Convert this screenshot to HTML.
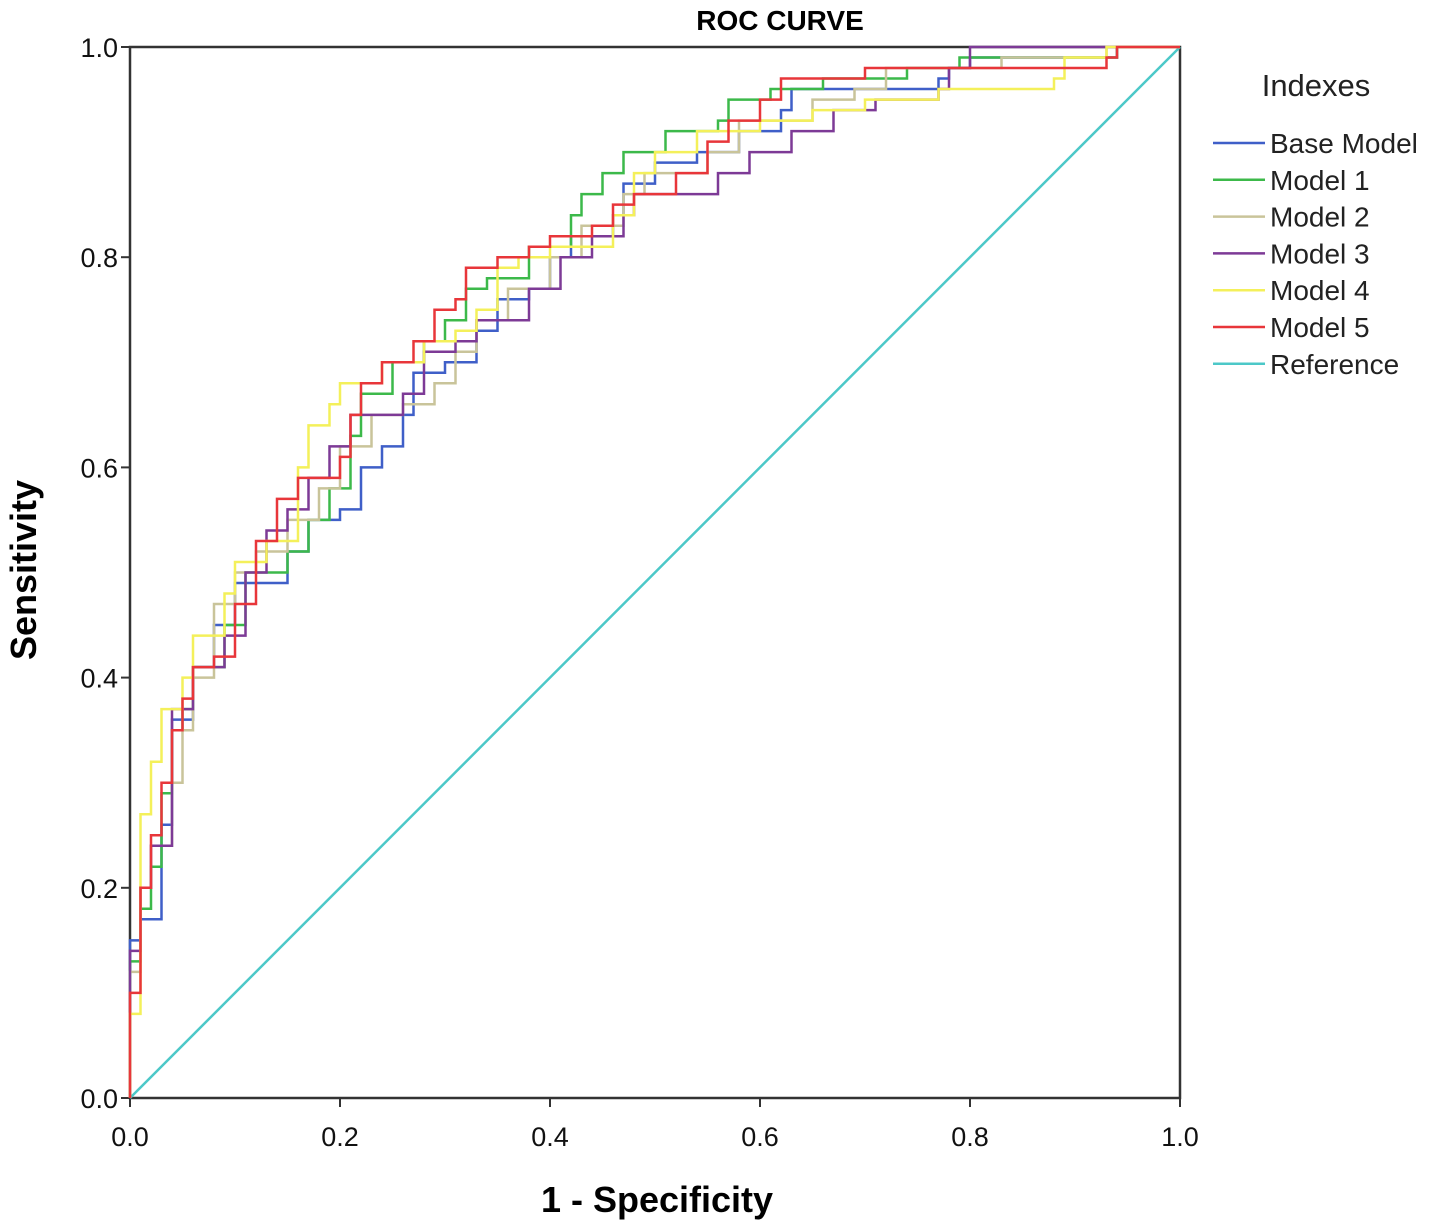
<!DOCTYPE html>
<html><head><meta charset="utf-8"><style>
body{margin:0;background:#fff;}
svg{display:block;font-family:"Liberation Sans",Arial,sans-serif;}
</style></head><body>
<svg id="chart" width="1429" height="1229" viewBox="0 0 1429 1229">
<text x="780" y="30" text-anchor="middle" font-size="28" font-weight="bold">ROC CURVE</text>
<g id="axes"></g>
<g id="series"></g>
<text x="657" y="1212" text-anchor="middle" font-size="36" font-weight="bold">1 - Specificity</text>
<text transform="translate(36,570) rotate(-90)" text-anchor="middle" font-size="36" font-weight="bold">Sensitivity</text>
<g id="legend">
<text x="1316" y="96" text-anchor="middle" font-size="31" fill="#222">Indexes</text>
</g>
</svg>
<script>
const tickLabels=["0.0","0.2","0.4","0.6","0.8","1.0"];
const tickValues=[0,0.2,0.4,0.6,0.8,1.0];
const seriesNames=["Base Model","Model 1","Model 2","Model 3","Model 4","Model 5","Reference"];
const seriesColors=["#3f5fc8","#3cb94a","#c9c49a","#7d3a96","#f4f05a","#e8363a","#4cc8c8"];
// step points [fpr, tpr]
const baseModel=[[0,0.15],[0.01,0.17],[0.03,0.18],[0.03,0.26],[0.04,0.36],[0.06,0.41],[0.08,0.45],[0.1,0.49],[0.15,0.49],[0.15,0.52],[0.17,0.55],[0.2,0.56],[0.22,0.56],[0.22,0.6],[0.24,0.62],[0.26,0.65],[0.27,0.69],[0.3,0.7],[0.33,0.73],[0.35,0.76],[0.38,0.77],[0.4,0.8],[0.42,0.82],[0.46,0.84],[0.47,0.87],[0.5,0.89],[0.54,0.9],[0.58,0.92],[0.62,0.94],[0.63,0.96],[0.77,0.97],[0.78,0.98],[0.8,0.99],[0.94,1.0]];
const model1=[[0,0.13],[0.01,0.18],[0.02,0.22],[0.03,0.29],[0.04,0.35],[0.05,0.37],[0.06,0.41],[0.09,0.45],[0.11,0.5],[0.13,0.5],[0.15,0.52],[0.17,0.55],[0.19,0.58],[0.21,0.63],[0.22,0.67],[0.25,0.7],[0.28,0.72],[0.3,0.74],[0.32,0.77],[0.34,0.78],[0.38,0.81],[0.42,0.84],[0.43,0.86],[0.45,0.88],[0.47,0.9],[0.51,0.92],[0.56,0.93],[0.57,0.95],[0.61,0.96],[0.66,0.97],[0.74,0.98],[0.79,0.99],[0.94,1.0]];
const model2=[[0,0.12],[0.01,0.2],[0.02,0.24],[0.04,0.3],[0.05,0.35],[0.06,0.4],[0.08,0.47],[0.1,0.5],[0.12,0.52],[0.15,0.55],[0.18,0.58],[0.2,0.62],[0.23,0.65],[0.26,0.66],[0.29,0.68],[0.31,0.71],[0.33,0.74],[0.36,0.77],[0.4,0.8],[0.43,0.83],[0.47,0.86],[0.49,0.88],[0.55,0.9],[0.58,0.93],[0.65,0.95],[0.69,0.96],[0.72,0.98],[0.83,0.99],[0.93,1.0]];
const model3=[[0,0.14],[0.01,0.2],[0.02,0.24],[0.04,0.29],[0.04,0.37],[0.06,0.41],[0.08,0.41],[0.09,0.44],[0.11,0.5],[0.13,0.54],[0.15,0.56],[0.17,0.59],[0.19,0.62],[0.21,0.65],[0.25,0.65],[0.26,0.67],[0.28,0.71],[0.31,0.72],[0.33,0.74],[0.37,0.74],[0.38,0.77],[0.41,0.8],[0.44,0.82],[0.47,0.84],[0.48,0.86],[0.55,0.86],[0.56,0.88],[0.59,0.9],[0.63,0.92],[0.67,0.94],[0.71,0.95],[0.77,0.96],[0.78,0.98],[0.8,1.0]];
const model4=[[0,0.08],[0.01,0.27],[0.02,0.32],[0.03,0.37],[0.05,0.4],[0.06,0.44],[0.09,0.48],[0.1,0.51],[0.13,0.53],[0.16,0.6],[0.17,0.64],[0.19,0.66],[0.2,0.68],[0.24,0.7],[0.28,0.72],[0.31,0.73],[0.33,0.75],[0.35,0.79],[0.37,0.8],[0.4,0.81],[0.45,0.81],[0.46,0.84],[0.48,0.88],[0.5,0.9],[0.54,0.92],[0.6,0.93],[0.65,0.94],[0.7,0.95],[0.77,0.96],[0.88,0.97],[0.89,0.99],[0.93,1.0]];
const model5=[[0,0.1],[0.01,0.2],[0.02,0.25],[0.03,0.3],[0.04,0.35],[0.05,0.38],[0.06,0.41],[0.08,0.42],[0.1,0.47],[0.12,0.53],[0.14,0.57],[0.16,0.59],[0.17,0.59],[0.2,0.61],[0.21,0.65],[0.22,0.68],[0.24,0.7],[0.27,0.72],[0.29,0.75],[0.31,0.76],[0.32,0.79],[0.35,0.8],[0.38,0.81],[0.4,0.82],[0.44,0.83],[0.46,0.85],[0.48,0.86],[0.52,0.88],[0.55,0.91],[0.57,0.93],[0.6,0.95],[0.62,0.97],[0.7,0.98],[0.93,0.99],[0.94,1.0]];
const refLine=[[0,0],[1,1]];
const allSeries=[baseModel,model1,model2,model3,model4,model5];

const X0=130,X1=1180,Y0=1098,Y1=47;
const xs=v=>X0+v*(X1-X0);
const ys=v=>Y0-v*(Y0-Y1);
const NS="http://www.w3.org/2000/svg";
function mk(tag,attrs,parent){const e=document.createElementNS(NS,tag);for(const k in attrs)e.setAttribute(k,attrs[k]);parent.appendChild(e);return e;}
const axes=document.getElementById('axes');
const frame=mk('rect',{x:X0,y:Y1,width:X1-X0,height:Y0-Y1,fill:'none',stroke:'#333','stroke-width':2.5},axes);


tickValues.forEach((v,i)=>{
  const tx=mk('line',{x1:xs(v),x2:xs(v),y1:Y0,y2:Y0+9,stroke:'#333','stroke-width':2},axes);
  
  
  const lx=mk('text',{x:xs(v),y:1146,'text-anchor':'middle','font-size':27,fill:'#111'},axes);
  lx.textContent=tickLabels[i];
  
  
  const ty=mk('line',{x1:X0-9,x2:X0,y1:ys(v),y2:ys(v),stroke:'#333','stroke-width':2},axes);
  
  
  const ly=mk('text',{x:X0-12,y:ys(v)+10,'text-anchor':'end','font-size':27,fill:'#111'},axes);
  ly.textContent=tickLabels[i];
  
  
});
const sg=document.getElementById('series');
const ref=mk('line',{x1:xs(refLine[0][0]),y1:ys(refLine[0][1]),x2:xs(refLine[1][0]),y2:ys(refLine[1][1]),stroke:seriesColors[6],'stroke-width':2.5},sg);


allSeries.forEach((pts,i)=>{
  let d='M'+xs(0)+' '+ys(0);
  pts.forEach(p=>{d+=' H'+xs(p[0]).toFixed(1)+' V'+ys(p[1]).toFixed(1);});
  d+=' H'+xs(1)+' V'+ys(1);
  const path=mk('path',{d:d,fill:'none',stroke:seriesColors[i],'stroke-width':2.5},sg);
  
  
});
const lg=document.getElementById('legend');
seriesNames.forEach((n,i)=>{
  const y=143+i*36.8;
  const ln=mk('line',{x1:1213,x2:1265,y1:y,y2:y,stroke:seriesColors[i],'stroke-width':2.5},lg);
  
  
  const t=mk('text',{x:1270,y:y+10,'font-size':28,fill:'#222'},lg);
  t.textContent=n;
  
  
});
</script>
</body></html>
